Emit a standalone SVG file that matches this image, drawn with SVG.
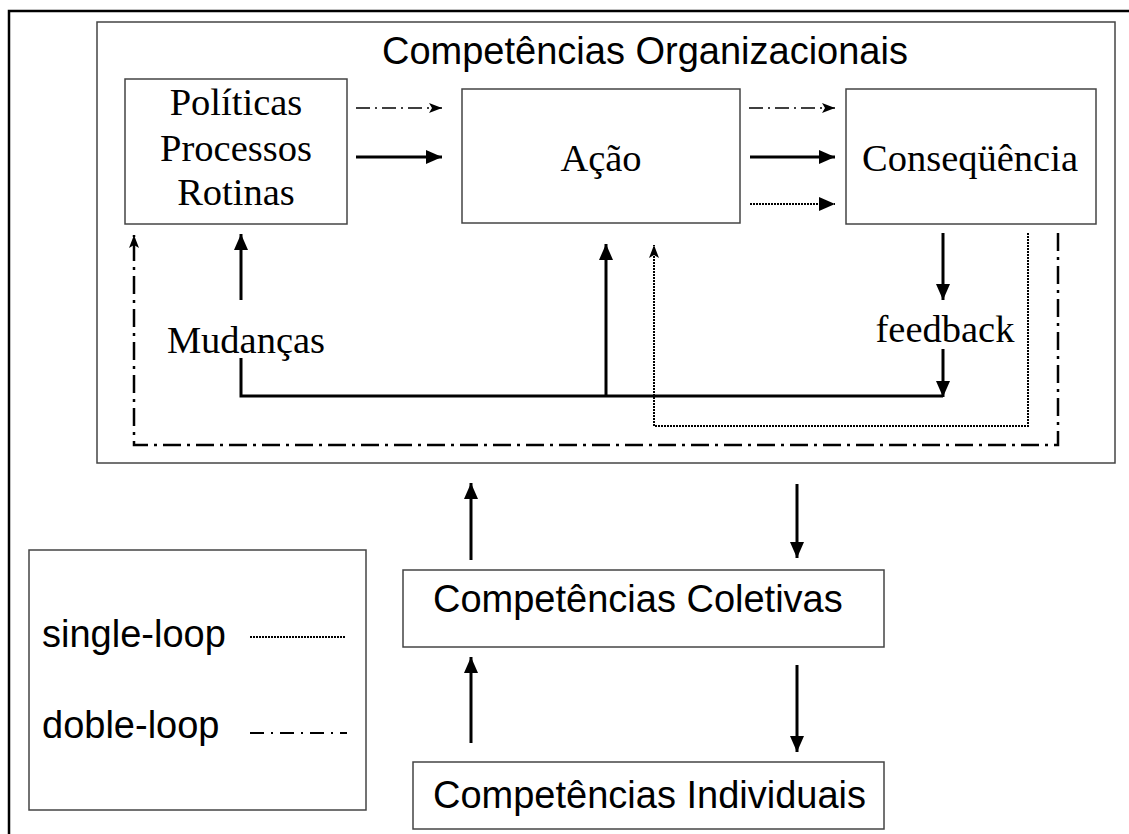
<svg xmlns="http://www.w3.org/2000/svg" width="1129" height="834" viewBox="0 0 1129 834">
<style>
.box{fill:#fff;stroke:#444;stroke-width:1.5}
.serif{font-family:"Liberation Serif","Times New Roman",serif;font-size:38.5px;fill:#000;text-anchor:middle}
.sans{font-family:"Liberation Sans",Arial,sans-serif;font-size:38px;fill:#000}
.solid{fill:none;stroke:#000;stroke-width:3}
.dd{fill:none;stroke:#000;stroke-width:1.5;stroke-dasharray:14 5 2 5}
.ddl{fill:none;stroke:#000;stroke-width:2;stroke-dasharray:14 7 2 7}
.dd2{fill:none;stroke:#000;stroke-width:2.5;stroke-dasharray:18 6 3 6}
.dot{fill:none;stroke:#000;stroke-width:2;stroke-dasharray:2 1}
</style>
<defs>
<marker id="tri" viewBox="0 0 16 14" refX="16" refY="7" markerWidth="16" markerHeight="14" markerUnits="userSpaceOnUse" orient="auto"><path d="M0,0 L16,7 L0,14 z" fill="#000"/></marker>
<marker id="dart" viewBox="0 0 13 10" refX="13" refY="5" markerWidth="13" markerHeight="10" markerUnits="userSpaceOnUse" orient="auto"><path d="M0,0 L13,5 L0,10 L3,5 z" fill="#000"/></marker>
</defs>
<rect width="1129" height="834" fill="#fff"/>
<g id="frame"><path d="M9,834 V11 H1129" fill="none" stroke="#000" stroke-width="2.5"/></g>
<g id="org"><rect class="box" x="97" y="22" width="1018" height="441"/><text class="sans" x="382" y="64">Competências Organizacionais</text></g>
<g id="politicas"><rect class="box" x="125" y="79" width="222" height="145"/><text class="serif" x="236" y="115">Políticas</text><text class="serif" x="236" y="161">Processos</text><text class="serif" x="236" y="205">Rotinas</text></g>
<g id="acao"><rect class="box" x="462" y="89" width="278" height="134"/><text class="serif" x="601" y="171">Ação</text></g>
<g id="consequencia"><rect class="box" x="846" y="89" width="250" height="135"/><text class="serif" x="970" y="171">Conseqüência</text></g>
<g id="mudancas"><text class="serif" x="246" y="353">Mudanças</text></g>
<g id="feedback"><text class="serif" x="945" y="342">feedback</text></g>
<g id="coletivas"><rect class="box" x="403" y="570" width="481" height="77"/><text class="sans" x="433" y="612">Competências Coletivas</text></g>
<g id="individuais"><rect class="box" x="413" y="762" width="471" height="67"/><text class="sans" x="433" y="808">Competências Individuais</text></g>
<g id="legend"><rect class="box" x="29" y="550" width="337" height="260"/><text class="sans" x="42" y="647">single-loop</text><text class="sans" x="42" y="738">doble-loop</text><path class="dot" d="M250,637 H345"/><path class="ddl" d="M250,733 H347"/></g>
<g id="connectors">
<path class="dd" d="M356,108 H442" marker-end="url(#dart)"/>
<path class="solid" d="M356,157 H442" marker-end="url(#tri)"/>
<path class="dd" d="M749,108 H835" marker-end="url(#dart)"/>
<path class="solid" d="M750,157 H835" marker-end="url(#tri)"/>
<path class="dot" d="M750,204 H835" marker-end="url(#tri)"/>
<path class="solid" d="M943,233 V300" marker-end="url(#tri)"/>
<path class="solid" d="M943,349 V397" marker-end="url(#tri)"/>
<path class="solid" d="M943,396 H241 V358"/>
<path class="solid" d="M241,300 V234" marker-end="url(#tri)"/>
<path class="solid" d="M606,396 V244" marker-end="url(#tri)"/>
<path class="dot" d="M1028,233 V426 H654 V245" marker-end="url(#dart)"/>
<path class="dd2" d="M1058,233 V445 H134 V235" marker-end="url(#dart)"/>
<path class="solid" d="M471,560 V483" marker-end="url(#tri)"/>
<path class="solid" d="M797,484 V558" marker-end="url(#tri)"/>
<path class="solid" d="M471,743 V657" marker-end="url(#tri)"/>
<path class="solid" d="M797,665 V752" marker-end="url(#tri)"/>
</g>
</svg>
